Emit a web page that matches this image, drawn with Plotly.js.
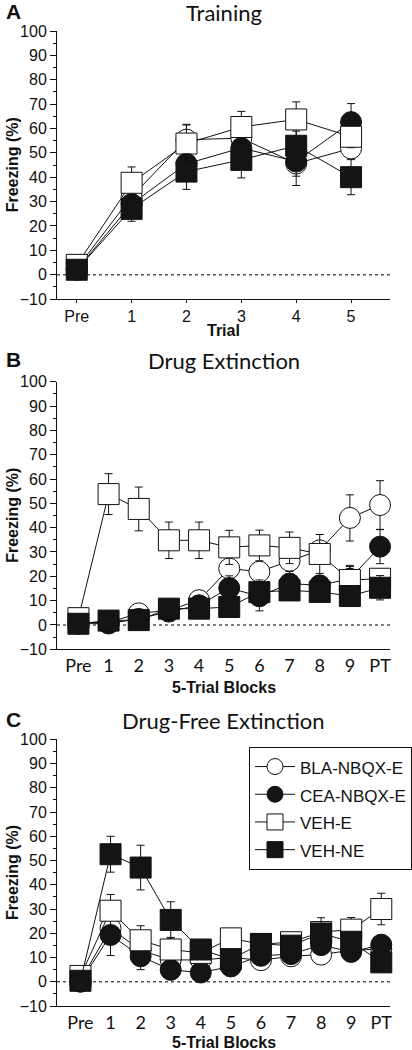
<!DOCTYPE html>
<html>
<head>
<meta charset="utf-8">
<script src="https://cdn.plot.ly/plotly-3.0.1.min.js"></script>
<style>
  html, body { margin: 0; padding: 0; background: #fff; }
  #chart { width: 412px; height: 1050px; }
</style>
</head>
<body>
<div id="chart"></div>
<script>
// ---------- data ----------
const blocksA = ['Pre', '1', '2', '3', '4', '5'];
const blocksBC = ['Pre', '1', '2', '3', '4', '5', '6', '7', '8', '9', 'PT'];
const groupNames = ['BLA-NBQX-E', 'CEA-NBQX-E', 'VEH-E', 'VEH-NE'];

// Panel A: Training
const trainBLA = [2.5, 32, 55.4, 56, 45.6, 51.8];
const trainCEA = [2, 29, 45.5, 52, 46.4, 62.6];
const trainVEHE = [4, 37.7, 53.8, 60.6, 63.7, 56.6];
const trainVEHNE = [2, 27, 42.3, 47.1, 52.9, 40];
const trainBLAerr = [0, 3, 6, 4, 9, 3.5];
const trainCEAerr = [0, 4, 4, 4, 6, 7.6];
const trainVEHEerr = [0, 6.5, 7.9, 6.4, 7.2, 4.5];
const trainVEHNEerr = [0, 5.1, 7.3, 7.4, 6, 7.2];

// Panel B: Drug Extinction
const drugBLA = [1, 1, 4.8, 6, 10.2, 23.2, 21.9, 26.4, 30.7, 44, 49.3];
const drugCEA = [0.5, 0.6, 2.5, 5.5, 8.1, 15.2, 11.8, 17, 16.3, 19, 32.2];
const drugVEHE = [2.8, 53.8, 47.7, 34.8, 34.8, 31.9, 32.7, 31.7, 29.2, 18.5, 19];
const drugVEHNE = [0.5, 1.8, 2, 6.7, 6.7, 7.4, 13.5, 14.2, 13.6, 11.9, 15.3];
const drugBLAerr = [0, 0.5, 1, 1, 1.5, 3, 3, 3, 3, 9.5, 10];
const drugCEAerr = [0, 0.5, 1, 1, 1.5, 5, 6, 5, 3, 5, 7];
const drugVEHEerr = [0, 8.4, 9, 7.5, 7.5, 7, 6.3, 6.5, 8, 6, 3];
const drugVEHNEerr = [0, 0.5, 1, 1.5, 1.5, 3, 5, 4, 3, 4, 5];

// Panel C: Drug-Free Extinction
const freeBLA = [0.5, 22, 13, 9, 9, 10, 8.9, 10.5, 11.2, 13, 13.5];
const freeCEA = [0, 19.3, 10.5, 4.9, 3.8, 6.3, 10.7, 11.4, 15.1, 12.3, 15.3];
const freeVEHE = [2.4, 29.3, 17.1, 13.3, 11.9, 17.9, 15.5, 16.3, 20.5, 21.5, 30];
const freeVEHNE = [0.4, 52.6, 47.1, 25.5, 13.3, 9.3, 15.6, 14.9, 19.9, 16.5, 8];
const freeBLAerr = [0, 3, 2, 2, 2, 2, 2, 2, 2, 2, 2];
const freeCEAerr = [0, 8.5, 5.5, 2, 1, 2, 2, 2, 2, 2, 2];
const freeVEHEerr = [0, 6.7, 6, 5, 3, 3, 3, 3, 3, 5, 6.5];
const freeVEHNEerr = [0, 7.4, 9.2, 7.5, 3, 3, 3, 3, 6.5, 3, 3];

// ---------- styles ----------
const BLACK = '#141414';
const styles = [
  { symbol: 'circle', fill: '#ffffff' },
  { symbol: 'circle', fill: BLACK },
  { symbol: 'square', fill: '#ffffff' },
  { symbol: 'square', fill: BLACK }
];

function mk(x, y, err, gi, xa, ya, showLegend) {
  return {
    type: 'scatter', mode: 'lines+markers',
    x: x, y: y, xaxis: xa, yaxis: ya,
    name: '<span style="font-size:17px">' + groupNames[gi] + '</span>',
    showlegend: showLegend, legendgroup: groupNames[gi],
    cliponaxis: false,
    line: { color: '#111', width: 1 },
    marker: { symbol: styles[gi].symbol, size: 21, color: styles[gi].fill,
              line: { color: '#111', width: 1 } },
    error_y: { type: 'data', array: err, visible: true, color: '#111', thickness: 1, width: 4 }
  };
}

const data = [
  mk(blocksA, trainBLA, trainBLAerr, 0, 'x', 'y', false),
  mk(blocksA, trainCEA, trainCEAerr, 1, 'x', 'y', false),
  mk(blocksA, trainVEHE, trainVEHEerr, 2, 'x', 'y', false),
  mk(blocksA, trainVEHNE, trainVEHNEerr, 3, 'x', 'y', false),
  mk(blocksBC, drugBLA, drugBLAerr, 0, 'x2', 'y2', false),
  mk(blocksBC, drugCEA, drugCEAerr, 1, 'x2', 'y2', false),
  mk(blocksBC, drugVEHE, drugVEHEerr, 2, 'x2', 'y2', false),
  mk(blocksBC, drugVEHNE, drugVEHNEerr, 3, 'x2', 'y2', false),
  mk(blocksBC, freeBLA, freeBLAerr, 0, 'x3', 'y3', true),
  mk(blocksBC, freeCEA, freeCEAerr, 1, 'x3', 'y3', true),
  mk(blocksBC, freeVEHE, freeVEHEerr, 2, 'x3', 'y3', true),
  mk(blocksBC, freeVEHNE, freeVEHNEerr, 3, 'x3', 'y3', true)
];

// ---------- layout ----------
const W = 412, H = 1050, ML = 57, MR = 5;
const PW = W - ML - MR;
const px = p => (p - ML) / PW;     // pixel x -> paper x
const py = p => 1 - p / H;         // pixel y -> paper y

const helv = 'Liberation Sans, Arial, Helvetica, sans-serif';
const avenir = 'Lato, Open Sans, sans-serif';

function yax(dom) {
  return {
    domain: dom, range: [-10, 100], dtick: 10, tick0: 0,
    showline: true, linecolor: '#111', linewidth: 1,
    ticks: 'outside', ticklen: 6, tickwidth: 1, tickcolor: '#111',
    minor: { dtick: 5, ticks: 'outside', ticklen: 3, tickcolor: '#111', tickwidth: 1 },
    showgrid: false, zeroline: false, fixedrange: true,
    tickfont: { family: helv, size: 16, color: '#111' }
  };
}
function xax(range, anchor, font, withTicks) {
  return {
    type: 'category', range: range, anchor: anchor,
    showline: true, linecolor: '#111', linewidth: 1,
    ticks: withTicks ? 'outside' : '', ticklen: 3, tickcolor: '#111',
    showgrid: false, zeroline: false, fixedrange: true,
    tickfont: font
  };
}

const titleFont = { family: avenir, size: 22, color: '#111' };
const letterFont = { family: helv, size: 21, color: '#111' };
const axFont = { family: helv, size: 16, color: '#111' };

const layout = {
  width: W, height: H,
  margin: { l: ML, r: MR, t: 0, b: 0, pad: 0 },
  paper_bgcolor: '#fff', plot_bgcolor: '#fff',
  showlegend: true,
  xaxis: xax([-0.36, 5.71], 'y', { family: helv, size: 16, color: '#111' }, true),
  yaxis: Object.assign(yax([py(299), py(31)]), { anchor: 'x' }),
  xaxis2: xax([-0.71, 10.33], 'y2', { family: avenir, size: 18, color: '#111' }, false),
  yaxis2: Object.assign(yax([py(649.3), py(381.7)]), { anchor: 'x2' }),
  xaxis3: xax([-0.78, 10.29], 'y3', { family: avenir, size: 18, color: '#111' }, false),
  yaxis3: Object.assign(yax([py(1006), py(739.3)]), { anchor: 'x3' }),
  legend: {
    x: px(259), y: py(746.7), xanchor: 'left', yanchor: 'top',
    bordercolor: '#111', borderwidth: 1, bgcolor: '#fff',
    font: { family: helv, size: 19, color: '#111' },
    itemwidth: 40, traceorder: 'normal'
  },
  shapes: [
    { type: 'line', xref: 'paper', yref: 'y', x0: 0, x1: 1, y0: 0, y1: 0, layer: 'below',
      line: { color: '#555', width: 1.5, dash: 'dot' } },
    { type: 'line', xref: 'paper', yref: 'y2', x0: 0, x1: 1, y0: 0, y1: 0, layer: 'below',
      line: { color: '#555', width: 1.5, dash: 'dot' } },
    { type: 'line', xref: 'paper', yref: 'y3', x0: 0, x1: 1, y0: 0, y1: 0, layer: 'below',
      line: { color: '#555', width: 1.5, dash: 'dot' } }
  ],
  annotations: [
    // panel letters
    { text: '<b>A</b>', x: px(1), y: py(11), xref: 'paper', yref: 'paper', xanchor: 'left', yanchor: 'middle', showarrow: false, font: letterFont },
    { text: '<b>B</b>', x: px(1), y: py(359), xref: 'paper', yref: 'paper', xanchor: 'left', yanchor: 'middle', showarrow: false, font: letterFont },
    { text: '<b>C</b>', x: px(1), y: py(719), xref: 'paper', yref: 'paper', xanchor: 'left', yanchor: 'middle', showarrow: false, font: letterFont },
    // panel titles
    { text: 'Training', x: 0.5, y: py(12), xref: 'paper', yref: 'paper', xanchor: 'center', yanchor: 'middle', showarrow: false, font: titleFont },
    { text: 'Drug Extinction', x: 0.5, y: py(360), xref: 'paper', yref: 'paper', xanchor: 'center', yanchor: 'middle', showarrow: false, font: titleFont },
    { text: 'Drug-Free Extinction', x: 0.5, y: py(720), xref: 'paper', yref: 'paper', xanchor: 'center', yanchor: 'middle', showarrow: false, font: titleFont },
    // y titles
    { text: '<b>Freezing (%)</b>', x: px(10), y: py(165), xref: 'paper', yref: 'paper', xanchor: 'center', yanchor: 'middle', textangle: -90, showarrow: false, font: axFont },
    { text: '<b>Freezing (%)</b>', x: px(10), y: py(515.5), xref: 'paper', yref: 'paper', xanchor: 'center', yanchor: 'middle', textangle: -90, showarrow: false, font: axFont },
    { text: '<b>Freezing (%)</b>', x: px(10), y: py(872.7), xref: 'paper', yref: 'paper', xanchor: 'center', yanchor: 'middle', textangle: -90, showarrow: false, font: axFont },
    // x titles
    { text: '<b>Trial</b>', x: 0.5, y: py(330.7), xref: 'paper', yref: 'paper', xanchor: 'center', yanchor: 'middle', showarrow: false, font: axFont },
    { text: '<b>5-Trial Blocks</b>', x: 0.5, y: py(687), xref: 'paper', yref: 'paper', xanchor: 'center', yanchor: 'middle', showarrow: false, font: axFont },
    { text: '<b>5-Trial Blocks</b>', x: 0.5, y: py(1042), xref: 'paper', yref: 'paper', xanchor: 'center', yanchor: 'middle', showarrow: false, font: axFont }
  ]
};

Plotly.newPlot('chart', data, layout, { displayModeBar: false, staticPlot: true });
</script>
</body>
</html>
